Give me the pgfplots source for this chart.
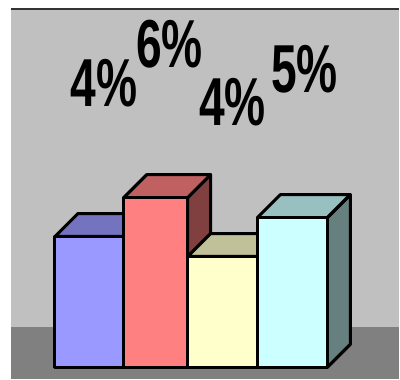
\documentclass[border=0pt]{standalone}
\usepackage{pgfplots}
\pgfplotsset{compat=1.18}
\usepackage{fontspec}
\setmainfont{Liberation Sans}
\definecolor{panel}{HTML}{C0C0C0}
\definecolor{floorc}{HTML}{808080}
\definecolor{bfront}{HTML}{9999FF}
\definecolor{btop}{HTML}{7373C0}
\definecolor{bside}{HTML}{4D4D80}
\definecolor{rfront}{HTML}{FF8080}
\definecolor{rtop}{HTML}{C06060}
\definecolor{rside}{HTML}{804040}
\definecolor{yfront}{HTML}{FFFFCC}
\definecolor{ytop}{HTML}{C0C099}
\definecolor{yside}{HTML}{808066}
\definecolor{cfront}{HTML}{CCFFFF}
\definecolor{ctop}{HTML}{99C0C0}
\definecolor{cside}{HTML}{668080}
\begin{document}
\begin{tikzpicture}
\begin{axis}[
  width=300pt, height=285pt, scale only axis,
  xmin=0, xmax=400, ymin=0, ymax=380,
  hide axis, clip=false,
  every axis plot/.append style={line width=2.3pt, line join=round, draw=black},
]
% background
\addplot[fill=white, draw=none] coordinates {(0,0)(400,0)(400,380)(0,380)} --cycle;
\addplot[fill=panel, draw=none] coordinates {(11,0)(400,0)(400,371)(11,371)} --cycle;
\addplot[fill=floorc, draw=none] coordinates {(11,0)(400,0)(400,52)(11,52)} --cycle;
\addplot[draw=black!80, line width=1.2pt] coordinates {(11,371)(400,371)};
% bar 1 (blue), height 131 above base 12
\addplot[fill=bside] coordinates {(124,12)(147,35)(147,166)(124,143)} --cycle;
\addplot[fill=btop] coordinates {(55,143)(78,166)(147,166)(124,143)} --cycle;
\addplot[fill=bfront] coordinates {(55,12)(124,12)(124,143)(55,143)} --cycle;
% bar 2 (red), height 170
\addplot[fill=rside] coordinates {(188,12)(211,35)(211,205)(188,182)} --cycle;
\addplot[fill=rtop] coordinates {(124,182)(147,205)(211,205)(188,182)} --cycle;
\addplot[fill=rfront] coordinates {(124,12)(188,12)(188,182)(124,182)} --cycle;
% bar 3 (yellow), height 111
\addplot[fill=yside] coordinates {(258,12)(281,35)(281,146)(258,123)} --cycle;
\addplot[fill=ytop] coordinates {(188,123)(211,146)(281,146)(258,123)} --cycle;
\addplot[fill=yfront] coordinates {(188,12)(258,12)(258,123)(188,123)} --cycle;
% bar 4 (cyan), height 150
\addplot[fill=cside] coordinates {(328,12)(351,35)(351,185)(328,162)} --cycle;
\addplot[fill=ctop] coordinates {(258,162)(281,185)(351,185)(328,162)} --cycle;
\addplot[fill=cfront] coordinates {(258,12)(328,12)(328,162)(258,162)} --cycle;
% labels
\begin{scope}[every node/.style={inner sep=0pt, font=\bfseries\fontsize{51}{51}\selectfont}]
\node at (axis cs:104,297) {\scalebox{0.68}[1]{4\%}};
\node at (axis cs:170,336) {\scalebox{0.68}[1]{6\%}};
\node at (axis cs:233,278) {\scalebox{0.68}[1]{4\%}};
\node at (axis cs:305,311) {\scalebox{0.68}[1]{5\%}};
\end{scope}
\end{axis}
\end{tikzpicture}
\end{document}
